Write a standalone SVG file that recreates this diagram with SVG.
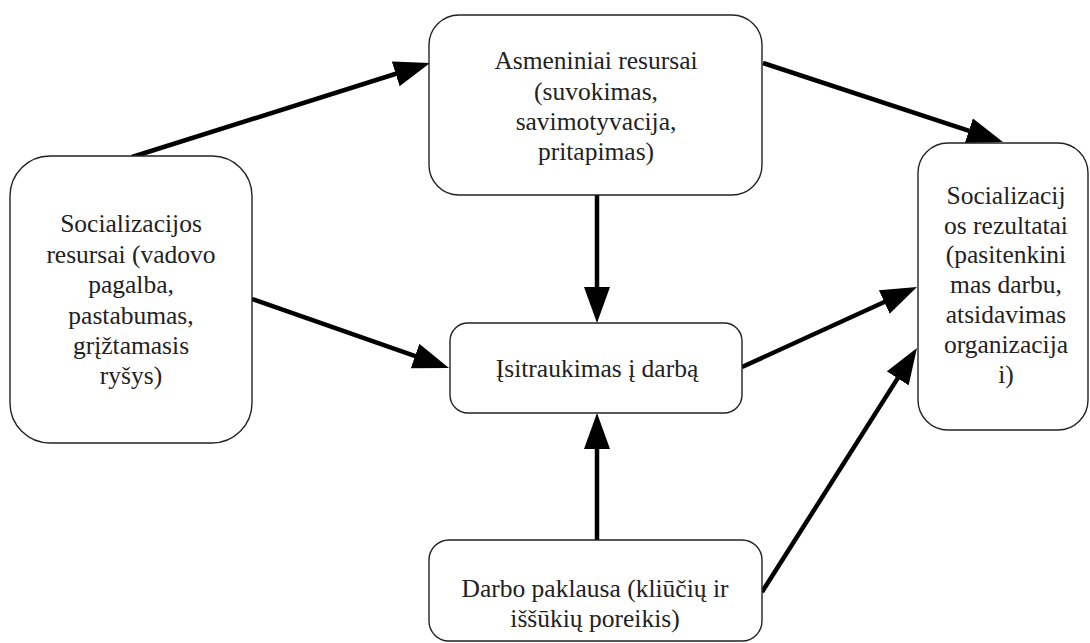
<svg xmlns="http://www.w3.org/2000/svg" width="1090" height="643" viewBox="0 0 1090 643">
<defs>
<style>
.box{fill:#fff;stroke:#222;stroke-width:1.4}
.t{font-family:"Liberation Serif","Times New Roman",serif;font-size:25.5px;fill:#222;text-anchor:middle}
.c{stroke:#000;stroke-width:4.5;fill:none;marker-end:url(#ah)}
</style>
<marker id="ah" markerUnits="userSpaceOnUse" markerWidth="36" markerHeight="26" refX="26" refY="13" orient="auto">
<path d="M0,0 L36,13 L0,26 Z" fill="#000"/>
</marker>
</defs>
<rect width="1090" height="643" fill="#fff"/>
<g id="connectors">
<line class="c" x1="132" y1="157" x2="420.5" y2="66"/>
<line class="c" x1="763" y1="63" x2="993.5" y2="138.9"/>
<line class="c" x1="597" y1="195" x2="597" y2="313"/>
<line class="c" x1="252" y1="299" x2="439.6" y2="364.7"/>
<line class="c" x1="742" y1="367" x2="907.9" y2="291.2"/>
<line class="c" x1="597" y1="540" x2="597" y2="423"/>
<line class="c" x1="762" y1="592" x2="911.6" y2="356.4"/>
</g>
<g id="soc-resursai">
<rect class="box" x="10" y="156" width="242" height="287" rx="40"/>
<text class="t"><tspan x="131" y="232">Socializacijos</tspan><tspan x="131" y="263">resursai (vadovo</tspan><tspan x="131" y="293">pagalba,</tspan><tspan x="131" y="324">pastabumas,</tspan><tspan x="131" y="354">grįžtamasis</tspan><tspan x="131" y="384">ryšys)</tspan></text>
</g>
<g id="asmeniniai">
<rect class="box" x="429" y="15" width="333" height="180" rx="30"/>
<text class="t"><tspan x="596" y="69">Asmeniniai resursai</tspan><tspan x="596" y="99.5">(suvokimas,</tspan><tspan x="596" y="130">savimotyvacija,</tspan><tspan x="596" y="160">pritapimas)</tspan></text>
</g>
<g id="isitraukimas">
<rect class="box" x="450" y="323" width="292" height="90" rx="18"/>
<text class="t" x="597" y="377">Įsitraukimas į darbą</text>
</g>
<g id="darbo-paklausa">
<rect class="box" x="429" y="540" width="333" height="101" rx="20"/>
<text class="t"><tspan x="595" y="597">Darbo paklausa (kliūčių ir</tspan><tspan x="595" y="627">iššūkių poreikis)</tspan></text>
</g>
<g id="soc-rezultatai">
<rect class="box" x="918" y="143" width="170" height="287" rx="30"/>
<text class="t"><tspan x="1006" y="204">Socializacij</tspan><tspan x="1006" y="234">os rezultatai</tspan><tspan x="1006" y="263">(pasitenkini</tspan><tspan x="1006" y="293">mas darbu,</tspan><tspan x="1006" y="323">atsidavimas</tspan><tspan x="1006" y="353">organizacija</tspan><tspan x="1006" y="383">i)</tspan></text>
</g>
</svg>
